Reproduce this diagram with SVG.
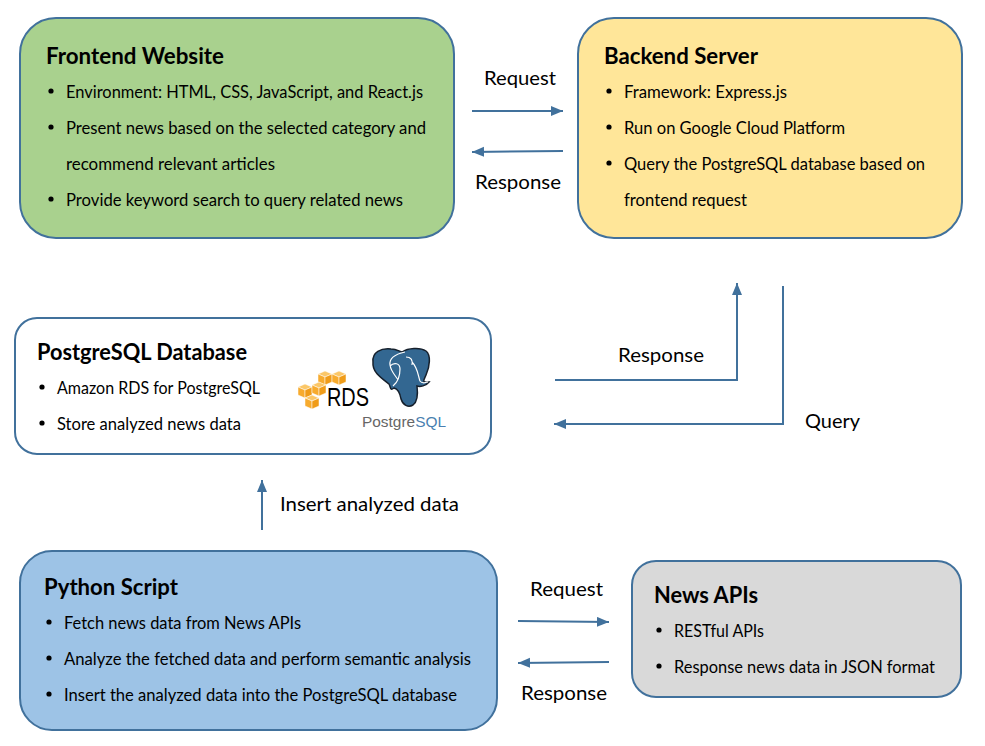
<svg xmlns="http://www.w3.org/2000/svg" width="985" height="746" viewBox="0 0 985 746">
<style>
text{font-family:Lato,"Open Sans",sans-serif;fill:#000}
.box{stroke:#41719c;stroke-width:2}
.h{font-size:22px;font-weight:700}
.t{font-size:16.4px}
.l{font-size:20px}
.c{fill:none;stroke:#41719c;stroke-width:2}
</style>
<defs>
<marker id="a" markerWidth="13" markerHeight="11" refX="12" refY="5" orient="auto" markerUnits="userSpaceOnUse"><path d="M0 0L12 5L0 10Z" fill="#41719c"/></marker>
<g id="cube" stroke="#fff" stroke-width=".5"><path d="M-7-4L0-7L7-4L0-1Z" fill="#fbc768"/><path d="M-7-4L0-1V7L-7 4Z" fill="#f7ab2e"/><path d="M7-4L0-1V7L7 4Z" fill="#f09c18"/></g>
</defs>
<rect width="985" height="746" fill="#fff"/>
<g id="frontend">
<rect class="box" x="20" y="18" width="434" height="220" rx="36" fill="#a9d18e"/>
<text class="h" x="46" y="63.500" textLength="178" lengthAdjust="spacingAndGlyphs">Frontend Website</text>
<circle cx="51" cy="91" r="2.6"/><text class="t" x="66" y="97.500" textLength="357" lengthAdjust="spacingAndGlyphs">Environment: HTML, CSS, JavaScript, and React.js</text>
<circle cx="51" cy="127" r="2.6"/><text class="t" x="66" y="133.500" textLength="360" lengthAdjust="spacingAndGlyphs">Present news based on the selected category and</text>
<text class="t" x="66" y="169.500" textLength="209" lengthAdjust="spacingAndGlyphs">recommend relevant articles</text>
<circle cx="51" cy="199" r="2.6"/><text class="t" x="66" y="205.500" textLength="337" lengthAdjust="spacingAndGlyphs">Provide keyword search to query related news</text>
</g>
<g id="backend">
<rect class="box" x="578" y="18" width="384" height="220" rx="36" fill="#ffe699"/>
<text class="h" x="604" y="63.500" textLength="154" lengthAdjust="spacingAndGlyphs">Backend Server</text>
<circle cx="609" cy="91" r="2.6"/><text class="t" x="624" y="97.500" textLength="163" lengthAdjust="spacingAndGlyphs">Framework: Express.js</text>
<circle cx="609" cy="127" r="2.6"/><text class="t" x="624" y="133.500" textLength="221" lengthAdjust="spacingAndGlyphs">Run on Google Cloud Platform</text>
<circle cx="609" cy="163" r="2.6"/><text class="t" x="624" y="169.500" textLength="301" lengthAdjust="spacingAndGlyphs">Query the PostgreSQL database based on</text>
<text class="t" x="624" y="205.500" textLength="123" lengthAdjust="spacingAndGlyphs">frontend request</text>
</g>
<g id="postgres">
<rect class="box" x="15" y="318" width="476" height="136" rx="22" fill="#fff"/>
<text class="h" x="37" y="359.500" textLength="210" lengthAdjust="spacingAndGlyphs">PostgreSQL Database</text>
<circle cx="42" cy="387" r="2.6"/><text class="t" x="57" y="393.500" textLength="203" lengthAdjust="spacingAndGlyphs">Amazon RDS for PostgreSQL</text>
<circle cx="42" cy="423" r="2.6"/><text class="t" x="57" y="429.500" textLength="184" lengthAdjust="spacingAndGlyphs">Store analyzed news data</text>
<g id="rds-logo">
<use href="#cube" x="325" y="378"/>
<use href="#cube" x="339" y="378"/>
<use href="#cube" x="305" y="391"/>
<use href="#cube" x="319" y="389"/>
<use href="#cube" x="312" y="402"/>
<text x="327" y="406" style="font-family:'Liberation Sans',sans-serif;font-size:26px" textLength="42" lengthAdjust="spacingAndGlyphs">RDS</text>
</g>
<g id="pg-logo">
<path d="M373 362C372 352 381 348 391 349C396 349 399 351 402 352C408 348 420 347 426 351C431 355 430 366 426 375C424 380 421 383 429 382C426 386 420 387 417 386C418 394 417 402 413 405C408 408 403 405 401 399C400 393 398 389 394 388C390 391 391 388 389 384C381 378 372 372 373 362Z" fill="#336791" stroke="#16202c" stroke-width="1.5"/>
<path d="M405 352C396 354 389 358 390 365C391 372 396 376 398 380M390 366C394 362 400 363 400 369C400 376 398 382 393 386M412 362C418 368 418 376 420 381C422 384 425 383 428 382M406 357C411 357 413 360 412 365" fill="none" stroke="#fff" stroke-width="1.2"/>
<text x="362" y="427" style="font-family:'Liberation Sans',sans-serif;font-size:15px;fill:#666" textLength="84" lengthAdjust="spacingAndGlyphs">Postgre<tspan style="fill:#4a7fb0">SQL</tspan></text>
</g>
</g>
<g id="python">
<rect class="box" x="20" y="551" width="477" height="179" rx="32" fill="#9dc3e6"/>
<text class="h" x="44" y="594.500" textLength="134" lengthAdjust="spacingAndGlyphs">Python Script</text>
<circle cx="49" cy="622" r="2.6"/><text class="t" x="64" y="628.500" textLength="237" lengthAdjust="spacingAndGlyphs">Fetch news data from News APIs</text>
<circle cx="49" cy="658" r="2.6"/><text class="t" x="64" y="664.500" textLength="407" lengthAdjust="spacingAndGlyphs">Analyze the fetched data and perform semantic analysis</text>
<circle cx="49" cy="694" r="2.6"/><text class="t" x="64" y="700.500" textLength="393" lengthAdjust="spacingAndGlyphs">Insert the analyzed data into the PostgreSQL database</text>
</g>
<g id="newsapis">
<rect class="box" x="632" y="561" width="329" height="136" rx="24" fill="#d9d9d9"/>
<text class="h" x="654" y="602.500" textLength="104" lengthAdjust="spacingAndGlyphs">News APIs</text>
<circle cx="659" cy="630" r="2.6"/><text class="t" x="674" y="636.500" textLength="90" lengthAdjust="spacingAndGlyphs">RESTful APIs</text>
<circle cx="659" cy="666" r="2.6"/><text class="t" x="674" y="672.500" textLength="261" lengthAdjust="spacingAndGlyphs">Response news data in JSON format</text>
</g>
<g id="connectors">
<path class="c" d="M472 111L563 111" marker-end="url(#a)"/>
<path class="c" d="M563 151L472 152" marker-end="url(#a)"/>
<path class="c" d="M555 380H737V283" marker-end="url(#a)"/>
<path class="c" d="M783 286V424H554" marker-end="url(#a)"/>
<path class="c" d="M262 530V480" marker-end="url(#a)"/>
<path class="c" d="M518 621L609 622" marker-end="url(#a)"/>
<path class="c" d="M609 662L518 663" marker-end="url(#a)"/>
<text class="l" x="484" y="85" textLength="72" lengthAdjust="spacingAndGlyphs">Request</text>
<text class="l" x="475" y="189" textLength="86" lengthAdjust="spacingAndGlyphs">Response</text>
<text class="l" x="618" y="362" textLength="86" lengthAdjust="spacingAndGlyphs">Response</text>
<text class="l" x="805" y="428" textLength="55" lengthAdjust="spacingAndGlyphs">Query</text>
<text class="l" x="280" y="511" textLength="179" lengthAdjust="spacingAndGlyphs">Insert analyzed data</text>
<text class="l" x="530" y="596" textLength="73" lengthAdjust="spacingAndGlyphs">Request</text>
<text class="l" x="521" y="700" textLength="86" lengthAdjust="spacingAndGlyphs">Response</text>
</g>
</svg>
